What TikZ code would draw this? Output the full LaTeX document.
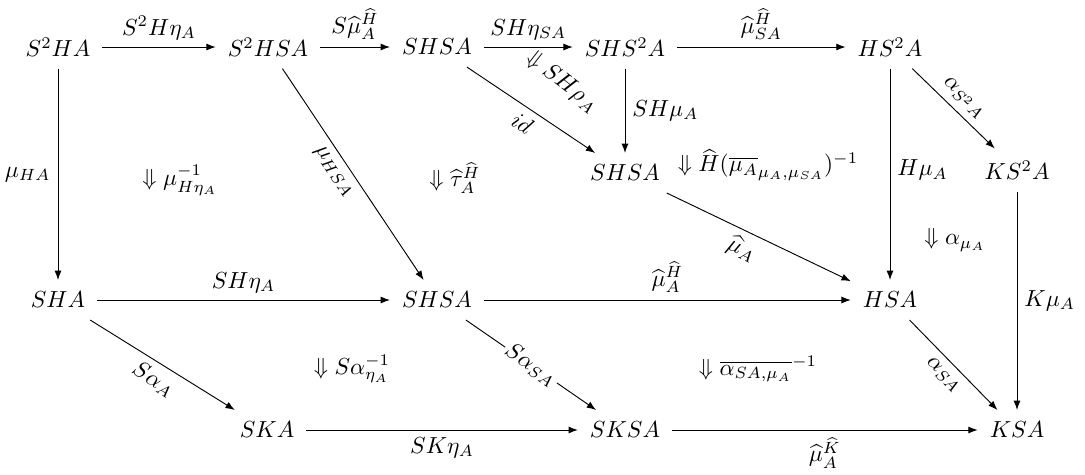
\documentclass[tikz,border=0pt]{standalone}
\usepackage{amsmath,amssymb}
\usetikzlibrary{arrows.meta}

\begin{document}
\begin{tikzpicture}[
  x=0.43pt, y=-0.43pt,
  >={Latex[length=4pt,width=3pt]},   % set default arrow tip
  obj/.style={inner sep=5pt},
  lbl/.style={inner sep=3pt},
  cell/.style={inner sep=1pt}
]
\useasboundingbox (0,0) rectangle (1085,474);
% Objects
\node[obj] (s2ha)  at (58,47)    {$S^2HA$};
\node[obj] (s2hsa) at (268,47)   {$S^2HSA$};
\node[obj] (shsa)  at (437,47)   {$SHSA$};
\node[obj] (shs2a) at (625,47)   {$SHS^2A$};
\node[obj] (hs2a)  at (890,47)   {$HS^2A$};
\node[obj] (shsam) at (625,173)  {$SHSA$};
\node[obj] (ks2a)  at (1017,170) {$KS^2A$};
\node[obj] (sha)   at (58,300)   {$SHA$};
\node[obj] (shsab) at (437,300)  {$SHSA$};
\node[obj] (hsa)   at (890,300)  {$HSA$};
\node[obj] (ska)   at (267,430)  {$SKA$};
\node[obj] (sksa)  at (625,430)  {$SKSA$};
\node[obj] (ksa)   at (1017,430) {$KSA$};

% Arrows
\draw[->] (s2ha)  -- node[lbl,above]{$S^2H\eta_A$} (s2hsa);
\draw[->] (s2hsa) -- node[lbl,above]{$S\widehat{\mu}^{\widehat{H}}_A$} (shsa);
\draw[->] (shsa)  -- node[lbl,above]{$SH\eta_{SA}$} (shs2a);
\draw[->] (shs2a) -- node[lbl,above]{$\widehat{\mu}^{\widehat{H}}_{SA}$} (hs2a);
\draw[->] (s2ha)  -- node[lbl,left]{$\mu_{HA}$} (sha);
\draw[->] (s2hsa) -- node[lbl,below,sloped,pos=0.45]{$\mu_{HSA}$} (shsab);
\draw[->] (shsa)  -- node[lbl,below,sloped]{$id$} (shsam);
\draw[->] (shs2a) -- node[lbl,right]{$SH\mu_A$} (shsam);
\draw[->] (hs2a)  -- node[lbl,right,pos=0.48]{$H\mu_A$} (hsa);
\draw[->] (hs2a)  -- node[lbl,above,sloped]{$\alpha_{S^2A}$} (ks2a);
\draw[->] (ks2a)  -- node[lbl,right]{$K\mu_A$} (ksa);
\draw[->] (shsam) -- node[lbl,below,sloped,pos=0.45]{$\widehat{\mu}_A$} (hsa);
\draw[->] (sha)   -- node[lbl,above]{$SH\eta_A$} (shsab);
\draw[->] (shsab) -- node[lbl,above]{$\widehat{\mu}^{\widehat{H}}_A$} (hsa);
\draw[->] (sha)   -- node[lbl,below,sloped]{$S\alpha_A$} (ska);
\draw[->] (shsab) -- node[lbl,sloped,fill=white,inner sep=1pt]{$S\alpha_{SA}$} (sksa);
\draw[->] (hsa)   -- node[lbl,below,sloped]{$\alpha_{SA}$} (ksa);
\draw[->] (ska)   -- node[lbl,below]{$SK\eta_A$} (sksa);
\draw[->] (sksa)  -- node[lbl,below]{$\widehat{\mu}^{\widehat{K}}_A$} (ksa);

% 2-cells
\node[cell] (mucell)    at (180,180) {$\Downarrow\mu^{-1}_{H\eta_A}$};
\node[cell] (taucell)   at (455,178) {$\Downarrow\widehat{\tau}^{\widehat{H}}_A$};
\node[cell,rotate=-38] (rhocell) at (562,82) {$\Downarrow SH\rho_A$};
\node[cell] (hcell)     at (768,165) {$\Downarrow\widehat{H}(\overline{\mu_A}_{\mu_A,\mu_{SA}})^{-1}$};
\node[cell] (alphacell) at (955,240) {$\Downarrow\alpha_{\mu_A}$};
\node[cell] (salcell)   at (352,369) {$\Downarrow S\alpha^{-1}_{\eta_A}$};
\node[cell] (barcell)   at (758,369) {$\Downarrow\overline{\alpha_{SA,\mu_A}}^{-1}$};
\end{tikzpicture}
\end{document}
